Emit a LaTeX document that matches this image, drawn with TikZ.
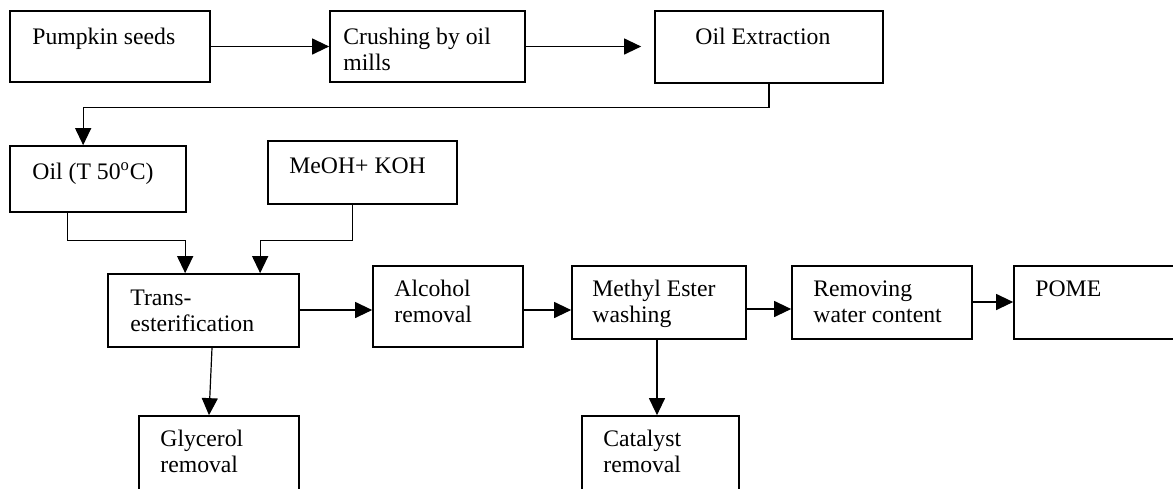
\documentclass[tikz,border=0pt]{standalone}
\usepackage{fontspec}
\setmainfont{Liberation Serif}
\usetikzlibrary{fit,arrows.meta,calc}
\begin{document}
\begin{tikzpicture}[x=0.5pt,y=-0.5pt,
  box/.style={draw, line width=0.85pt, inner sep=0pt, rectangle},
  txt/.style={inner sep=0pt, anchor=base west, font=\fontsize{11.85}{13.25}\selectfont},
  arr/.style={line width=0.6pt, -{Triangle[length=8.5pt,width=8pt]}}]
\useasboundingbox (0,0) rectangle (1173,488);
\clip (0,0) rectangle (1173,488);
% boxes
\node[box, fit={(10,11) (210,82)}] (pump) {};
\node[box, fit={(330,11) (525,82)}] (crush) {};
\node[box, fit={(655,11) (883,83)}] (ext) {};
\node[box, fit={(10,146) (186,212)}] (oil) {};
\node[box, fit={(268,141) (457,204)}] (meoh) {};
\node[box, fit={(108,274) (299,347)}] (trans) {};
\node[box, fit={(373,266) (523,347)}] (alc) {};
\node[box, fit={(572,266) (746,339)}] (meth) {};
\node[box, fit={(792,266) (972,339)}] (water) {};
\node[box, fit={(1014,266) (1190,339)}] (pome) {};
\node[box, fit={(139,416) (299,500)}] (gly) {};
\node[box, fit={(582,416) (739,500)}] (cat) {};
% texts
\node[txt] (tpump) at (32,44) {Pumpkin seeds};
\node[txt] (tcrush) at (343,44) {\parbox[t]{150pt}{Crushing by oil\\mills}};
\node[txt] (text) at (695,44) {Oil Extraction};
\node[txt] (toil) at (32,179) {Oil (T 50\textsuperscript{o}C)};
\node[txt] (tmeoh) at (289,173) {MeOH+ KOH};
\node[txt] (ttrans) at (130,305) {\parbox[t]{150pt}{Trans-\\esterification}};
\node[txt] (talc) at (394,296) {\parbox[t]{150pt}{Alcohol\\removal}};
\node[txt] (tmeth) at (592,296) {\parbox[t]{150pt}{Methyl Ester\\washing}};
\node[txt] (twater) at (813,296) {\parbox[t]{150pt}{Removing\\water content}};
\node[txt] (tpome) at (1035,296) {POME};
\node[txt] (tgly) at (160,446) {\parbox[t]{150pt}{Glycerol\\removal}};
\node[txt] (tcat) at (603,446) {\parbox[t]{150pt}{Catalyst\\removal}};
% connectors
\draw[arr] (pump.east) -- (crush.west);
\draw[arr, shorten >=6.5pt] (crush.east) -- (ext.west |- crush.east);
\draw[arr] (ext.south) |- ($(oil.north west)+(74,-38)$) -- ($(oil.north west)+(74,0)$);
\draw[arr] ($(oil.south west)+(58,0)$) |- ($(trans.north west)+(78,-33)$) -- ($(trans.north west)+(78,0)$);
\draw[arr] ($(meoh.south west)+(85,0)$) |- ($(trans.north west)+(153,-33)$) -- ($(trans.north west)+(153,0)$);
\draw[arr] (trans.east |- 0,310) -- (alc.west |- 0,310);
\draw[arr] (alc.east |- 0,310) -- (meth.west |- 0,310);
\draw[arr] (meth.east |- 0,309) -- (water.west |- 0,309);
\draw[arr] (water.east |- 0,302) -- (pome.west |- 0,302);
\draw[arr] (trans.south -| 212,0) -- (gly.north -| 209,0);
\draw[arr] (meth.south -| 657,0) -- (cat.north -| 657,0);
\end{tikzpicture}
\end{document}
